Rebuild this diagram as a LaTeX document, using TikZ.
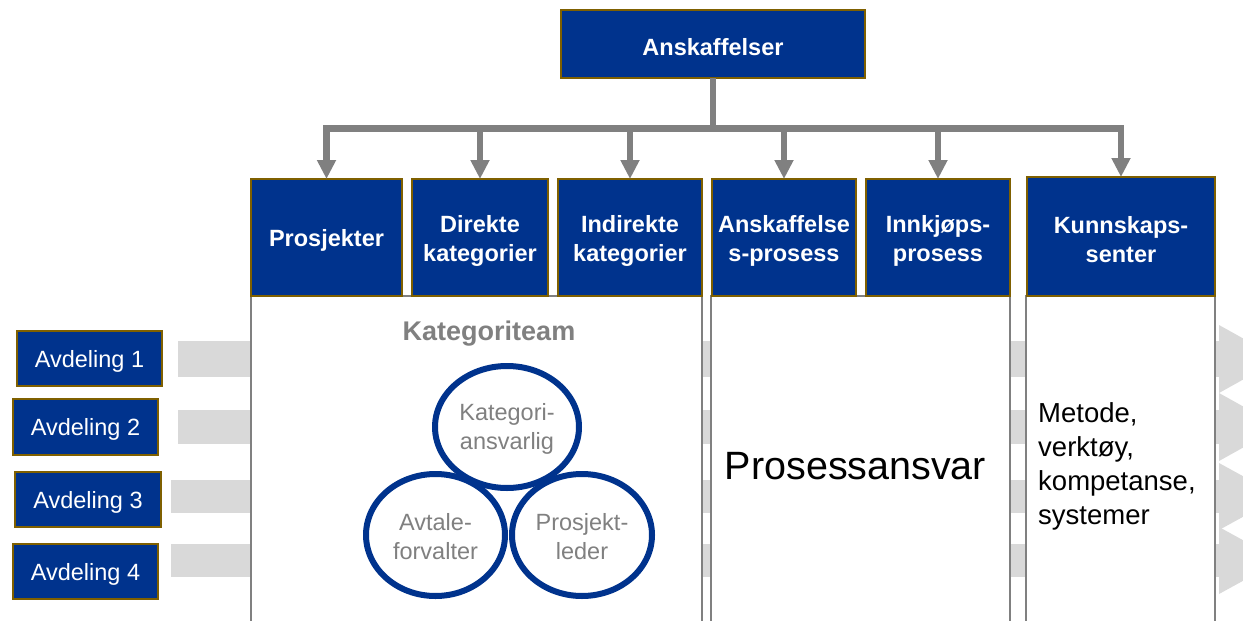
\documentclass[tikz,border=0pt]{standalone}
\usepackage{fontspec}
\setmainfont{Liberation Sans}
\usetikzlibrary{arrows.meta,shapes.geometric}

\definecolor{navy}{RGB}{0,51,141}
\definecolor{goldedge}{RGB}{127,96,0}
\definecolor{linkgray}{RGB}{128,128,128}
\definecolor{bandgray}{RGB}{217,217,217}
\definecolor{textgray}{RGB}{128,128,128}

\tikzset{
  unitbox/.style={fill=navy, draw=goldedge, line width=1.5pt,
    inner sep=0pt, outer sep=0pt, anchor=north west},
  headtext/.style={text=white, align=center, inner sep=0pt, yshift=-3pt,
    font=\bfseries\fontsize{23.5}{29}\selectfont},
  depttext/.style={text=white, inner sep=0pt, yshift=-2.5pt,
    font=\fontsize{23.5}{28}\selectfont},
  panel/.style={fill=white, draw=linkgray, line width=2pt, anchor=north west,
    inner sep=0pt, outer sep=0pt},
  conn/.style={draw=linkgray, line width=6.5pt,
    -{Triangle[width=18pt,length=19pt]}},
  band/.style={fill=bandgray},
  role/.style={ellipse, draw=navy, line width=6pt, fill=white, inner sep=0pt},
  roletext/.style={text=textgray, align=center, inner sep=0pt, yshift=-2pt,
    font=\fontsize{23.5}{29}\selectfont},
}

\begin{document}
\begin{tikzpicture}[x=1pt,y=-1pt]
\clip (0,0) rectangle (1243,621);
\fill[white] (0,0) rectangle (1243,621);

% flow bands running from the departments through all units
\fill[band] (178,341) rectangle (1219,377);
\fill[band] (1219,325) -- (1280,359) -- (1219,393) -- cycle;
\fill[band] (178,410) rectangle (1219,444);
\fill[band] (1219,393) -- (1280,427) -- (1219,461) -- cycle;
\fill[band] (171,480) rectangle (1219,513);
\fill[band] (1219,463) -- (1280,496.5) -- (1219,530) -- cycle;
\fill[band] (171,544) rectangle (1219,577);
\fill[band] (1219,527) -- (1280,560.5) -- (1219,594) -- cycle;

% white panels below the units
\node[panel, minimum width=451, minimum height=360] (pan1) at (251,296) {};
\node[panel, minimum width=299, minimum height=360] (pan2) at (711,296) {};
\node[panel, minimum width=189, minimum height=360] (pan3) at (1026,296) {};

% top unit and the six sub-units
\node[unitbox, minimum width=304, minimum height=68,
  label={[headtext]center:Anskaffelser}] (top) at (561,10) {};
\node[unitbox, minimum width=151, minimum height=117,
  label={[headtext]center:Prosjekter}] (p1) at (251,179) {};
\node[unitbox, minimum width=136, minimum height=117,
  label={[headtext]center:{Direkte\\kategorier}}] (p2) at (412,179) {};
\node[unitbox, minimum width=144, minimum height=117,
  label={[headtext]center:{Indirekte\\kategorier}}] (p3) at (558,179) {};
\node[unitbox, minimum width=144, minimum height=117,
  label={[headtext]center:{Anskaffelse\\s-prosess}}] (p4) at (712,179) {};
\node[unitbox, minimum width=144, minimum height=117,
  label={[headtext]center:{Innkjøps-\\prosess}}] (p5) at (866,179) {};
\node[unitbox, minimum width=188, minimum height=119,
  label={[headtext]center:{Kunnskaps-\\senter}}] (p6) at (1027,177) {};

% connectors from the top unit
\coordinate (bar) at (0,128.5);
\draw[draw=linkgray, line width=6.5pt] (top.south) -- (top.south |- bar);
\foreach \k in {1,...,6}
  \draw[conn] (top.south |- bar) -| (p\k.north);

% departments
\node[unitbox, minimum width=145, minimum height=55,
  label={[depttext]center:Avdeling 1}] (a1) at (17,331) {};
\node[unitbox, minimum width=145, minimum height=56,
  label={[depttext]center:Avdeling 2}] (a2) at (13,399) {};
\node[unitbox, minimum width=146, minimum height=55,
  label={[depttext]center:Avdeling 3}] (a3) at (15,472) {};
\node[unitbox, minimum width=145, minimum height=55,
  label={[depttext]center:Avdeling 4}] (a4) at (13,544) {};

% category team
\node[text=textgray, font=\bfseries\fontsize{27}{31}\selectfont] (team) at (489,334) {Kategoriteam};
\node[role, minimum width=139, minimum height=122,
  label={[roletext]center:{Avtale-\\forvalter}}] (r2) at (435.5,535) {};
\node[role, minimum width=140, minimum height=122,
  label={[roletext]center:{Prosjekt-\\leder}}] (r3) at (582,535) {};
\node[role, minimum width=144, minimum height=122,
  label={[roletext]center:{Kategori-\\ansvarlig}}] (r1) at (507,427) {};

% process and knowledge panels
\node[font=\fontsize{39.5}{44}\selectfont] (proc) at (855.5,466) {Prosessansvar};
\node[anchor=west, align=left, inner sep=0pt, font=\fontsize{27.5}{34}\selectfont] (know) at (1038,466)
  {Metode,\\verktøy,\\kompetanse,\\systemer};
\end{tikzpicture}
\end{document}
